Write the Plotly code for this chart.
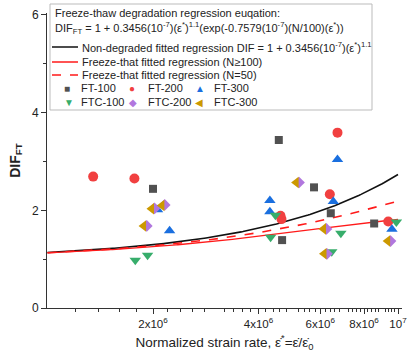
import numpy as np
import plotly.graph_objects as go

# ---------------- data ----------------
ft100_x = [2.00e6, 4.57e6, 4.67e6, 5.76e6, 6.43e6, 8.55e6]
ft100_y = [2.44, 3.44, 1.39, 2.47, 1.94, 1.73]

ft200_x = [1.35e6, 1.77e6, 4.62e6, 4.65e6, 6.39e6, 6.72e6, 9.38e6]
ft200_y = [2.69, 2.65, 1.89, 1.82, 2.33, 3.59, 1.77]

ft300_x = [2.06e6, 2.23e6, 4.31e6, 4.31e6, 6.54e6, 6.72e6, 9.61e6]
ft300_y = [2.01, 1.58, 2.20, 1.97, 2.18, 3.04, 1.61]

ftc100_x = [1.78e6, 1.93e6, 4.33e6, 4.47e6, 6.47e6, 6.87e6, 9.89e6]
ftc100_y = [0.98, 1.08, 1.45, 1.90, 1.15, 1.53, 1.76]

ftc200_x = [1.92e6, 2.02e6, 2.16e6, 5.22e6, 6.25e6, 6.27e6, 9.52e6]
ftc200_y = [1.68, 2.04, 2.11, 2.57, 1.62, 1.11, 1.37]

ftc300_x = [1.88e6, 1.98e6, 2.12e6, 5.12e6, 6.13e6, 6.15e6, 9.34e6]
ftc300_y = [1.68, 2.03, 2.10, 2.57, 1.62, 1.11, 1.37]

# regression coefficients printed on the chart
coef_a = 0.3456e-7
coef_b = 1.1
coef_c = 0.7579e-7
n_cycles = [100, 50]

x_tickvals = [2e6, 4e6, 6e6, 8e6, 1e7]
x_ticktext = ["2x10<sup>6</sup>", "4x10<sup>6</sup>", "6x10<sup>6</sup>",
              "8x10<sup>6</sup>", "10<sup>7</sup>"]
x_minor = [v * 1e5 for v in range(12, 100, 2) if v % 10 != 0]

# ---------------- figure ----------------
FONT = "Liberation Sans, Arial, sans-serif"
W, H = 408, 362
ML, MR, MT, MB = 47, 6, 13, 54
PW, PH = W - ML - MR, H - MT - MB


def px(xp):
    return (xp - ML) / PW


def py(yp):
    return (H - MB - yp) / PH


fig = go.Figure()

xc = np.logspace(6, 7, 200)
base = coef_a * xc ** coef_b
fig.add_trace(go.Scatter(x=xc, y=1 + base, mode="lines", name="Non-degraded fitted regression",
                         line=dict(color="#111111", width=1.6), showlegend=False))
fig.add_trace(go.Scatter(x=xc, y=1 + base * np.exp(-coef_c * (n_cycles[0] / 100) * xc),
                         mode="lines", name="Freeze-that fitted regression (N≥100)",
                         line=dict(color="#FF1A1A", width=1.3), showlegend=False))
fig.add_trace(go.Scatter(x=xc, y=1 + base * np.exp(-coef_c * (n_cycles[1] / 100) * xc),
                         mode="lines", name="Freeze-that fitted regression (N=50)",
                         line=dict(color="#FF1A1A", width=1.6, dash="dash"), showlegend=False))

series = [
    ("FT-100", ft100_x, ft100_y, "square", "#515151", 8),
    ("FT-200", ft200_x, ft200_y, "circle", "#F14040", 10),
    ("FT-300", ft300_x, ft300_y, "triangle-up", "#1A6FDF", 10),
    ("FTC-100", ftc100_x, ftc100_y, "triangle-down", "#37AD6B", 10),
    ("FTC-200", ftc200_x, ftc200_y, "diamond", "#B177DE", 9),
    ("FTC-300", ftc300_x, ftc300_y, "triangle-left", "#CC9900", 10),
]
for name, xs, ys, sym, col, sz in series:
    fig.add_trace(go.Scatter(x=xs, y=ys, mode="markers", name=name, showlegend=False,
                             marker=dict(symbol=sym, color=col, size=sz, line=dict(width=0))))

# ---------------- hand-built legend box ----------------
shapes = [dict(type="rect", xref="paper", yref="paper", x0=px(50), x1=px(372),
               y0=py(110), y1=py(4), line=dict(color="#BBBBBB", width=1),
               fillcolor="white", layer="above")]
ann = []
tfont = dict(family=FONT, size=11, color="#222222")


def txt(x, y, s, color=None, size=11):
    f = dict(tfont)
    f["size"] = size
    if color:
        f["color"] = color
    ann.append(dict(x=px(x), y=py(y), xref="paper", yref="paper", text=s,
                    showarrow=False, xanchor="left", yanchor="middle", font=f))


txt(53, 13, "Freeze-thaw degradation regression euqation:")
txt(53, 28, "DIF<sub>FT</sub> = 1 + 0.3456(10<sup>-7</sup>)(ε<sup>*</sup>)<sup>1.1</sup>"
            "(exp(-0.7579(10<sup>-7</sup>)(N/100)(ε<sup>*</sup>))")
leg_lines = [
    (47, "#111111", "solid", "Non-degraded fitted regression DIF = 1 + 0.3456(10<sup>-7</sup>)(ε<sup>*</sup>)<sup>1.1</sup>"),
    (62, "#FF1A1A", "solid", "Freeze-that fitted regression (N≥100)"),
    (75, "#FF1A1A", "dash", "Freeze-that fitted regression (N=50)"),
]
for yy, col, dash, label in leg_lines:
    shapes.append(dict(type="line", xref="paper", yref="paper", x0=px(52), x1=px(78),
                       y0=py(yy), y1=py(yy), line=dict(color=col, width=1.5, dash=dash),
                       layer="above"))
    txt(80, yy, label)

glyphs = {"square": "■", "circle": "●", "triangle-up": "▲", "triangle-down": "▼",
          "diamond": "◆", "triangle-left": "◀"}
cols_x = [(62, 79), (127, 146), (193, 212)]
for i, (name, xs, ys, sym, col, sz) in enumerate(series):
    r, c = divmod(i, 3)
    yy = 88 + r * 14
    gx, tx = cols_x[c]
    txt(gx, yy, glyphs[sym], color=col, size=10)
    txt(tx, yy, name)

fig.update_layout(
    width=W, height=H,
    margin=dict(l=ML, r=MR, t=MT, b=MB, autoexpand=False),
    paper_bgcolor="white", plot_bgcolor="white",
    font=dict(family=FONT, size=12, color="#222222"),
    shapes=shapes, annotations=ann,
    showlegend=False,
)
fig.update_xaxes(
    type="log", range=[5.9986, 7.0114], automargin=False,
    tickvals=x_tickvals, ticktext=x_ticktext,
    ticks="outside", ticklen=5, tickwidth=1, tickcolor="#333333",
    showline=True, linecolor="#333333", linewidth=1, showgrid=False, zeroline=False,
    tickfont=dict(size=11.5, color="#222222"),
    minor=dict(tickmode="array", tickvals=x_minor, ticks="outside", ticklen=3,
               tickcolor="#333333", showgrid=False),
    title=dict(text="Normalized strain rate, ε̇<sup>*</sup>=ε̇/ε̇<sub>0</sub>",
               font=dict(size=13.5, color="#222222"), standoff=8),
)
fig.update_yaxes(
    range=[0, 6.04], tickvals=[0, 2, 4, 6], automargin=False,
    ticks="outside", ticklen=5, tickwidth=1, tickcolor="#333333",
    showline=True, linecolor="#333333", linewidth=1, showgrid=False, zeroline=False,
    tickfont=dict(size=12, color="#222222"),
    minor=dict(tickmode="array", tickvals=[1, 3, 5], ticks="outside", ticklen=3,
               tickcolor="#333333", showgrid=False),
    title=dict(text="<b>DIF<sub>FT</sub></b>", font=dict(size=14, color="#222222"), standoff=8),
)

fig.write_html("out.html", config={"displayModeBar": False},
               post_script="document.body.style.margin='0';document.body.style.overflow='hidden';")
